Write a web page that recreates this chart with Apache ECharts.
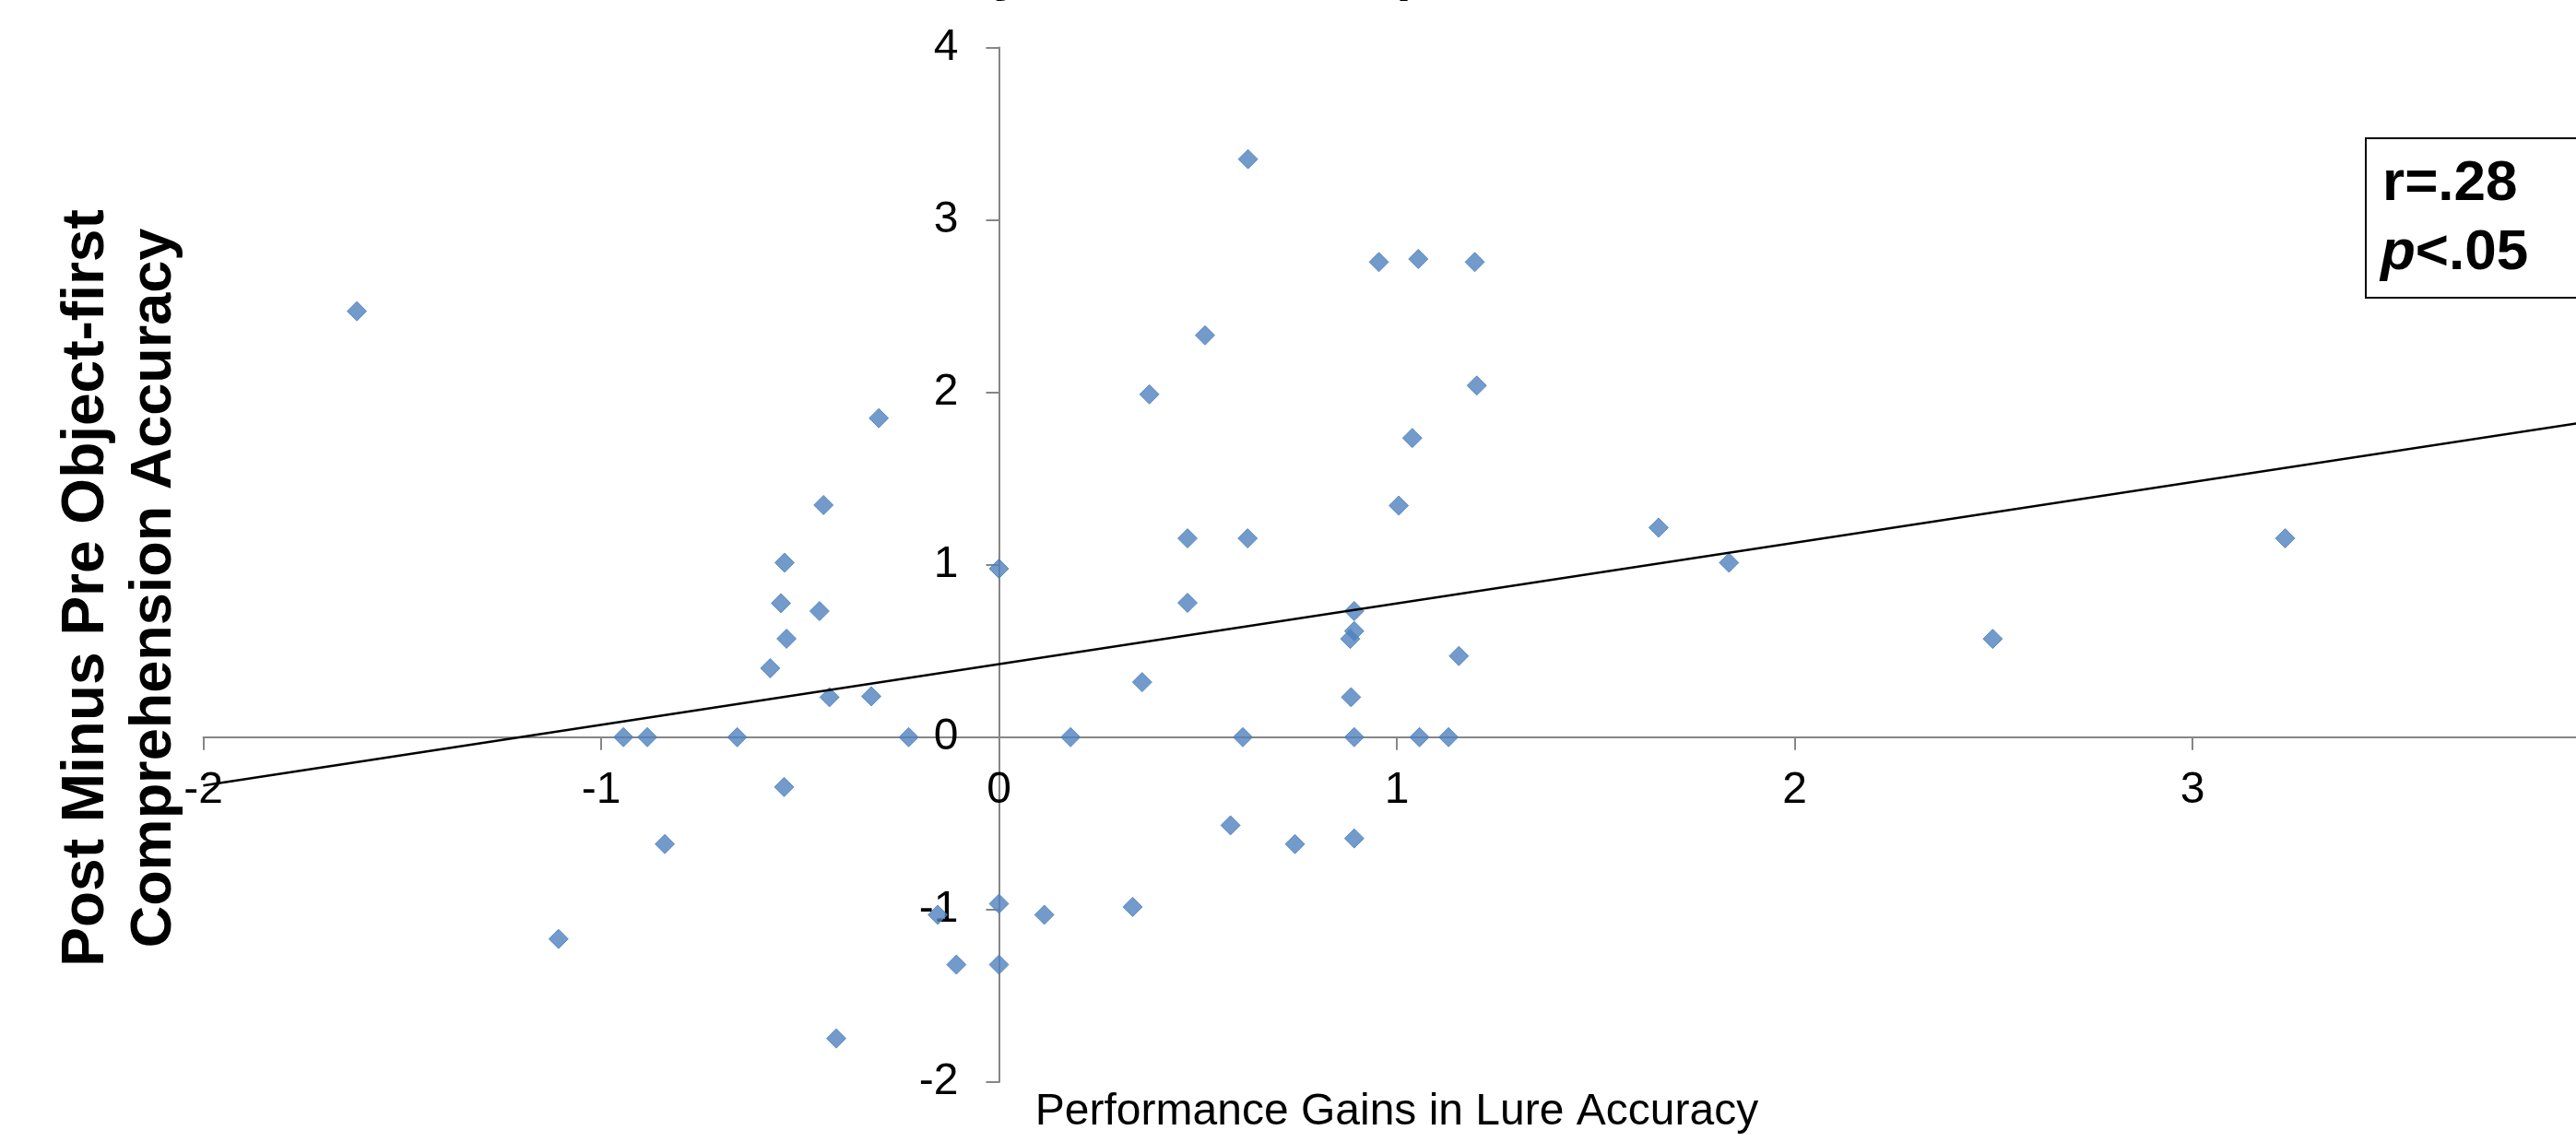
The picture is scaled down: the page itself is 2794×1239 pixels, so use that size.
<!DOCTYPE html>
<html>
<head>
<meta charset="utf-8">
<script src="https://cdn.jsdelivr.net/npm/echarts@6/dist/echarts.min.js"></script>
<style>
html,body{margin:0;padding:0;background:#fff;}
#chart{width:2794px;height:1239px;}
</style>
</head>
<body>
<div id="chart"></div>
<script>
// Data
const lureGain = [-1.614,-1.107,-0.944,-0.884,-0.840,-0.658,-0.575,-0.548,-0.539,-0.534,-0.540,-0.451,-0.441,-0.426,-0.409,-0.321,-0.302,-0.227,-0.154,-0.107,0,0,0,0.114,0.180,0.336,0.360,0.378,0.474,0.474,0.518,0.582,0.613,0.625,0.626,0.744,0.893,0.883,0.893,0.893,0.885,0.893,0.955,1.005,1.039,1.054,1.057,1.130,1.156,1.196,1.201,1.658,1.835,2.498,3.233];
const compGain = [2.47,-1.17,0,0,-0.62,0,0.40,0.777,1.012,0.571,-0.289,0.731,1.346,0.232,-1.747,0.237,1.85,0,-1.03,-1.319,0.977,-0.966,-1.319,-1.03,0,-0.984,0.319,1.988,1.153,0.779,2.33,-0.511,0,1.153,3.352,-0.62,-0.587,0.570,0.615,0.731,0.232,0,2.755,1.343,1.735,2.773,0,0,0.471,2.755,2.039,1.215,1.012,0.57,1.153];
const trendX = [-2, 4];
const trendY = [-0.28, 1.832];
const xTicks = {min: -2, max: 4, interval: 1};
const yTicks = {min: -2, max: 4, interval: 1};
const titleText = 'Lure Accuracy Predicts Comprehension';
const xName = 'Performance Gains in Lure Accuracy';
const yNameLine1 = 'Post Minus Pre Object-first';
const yNameLine2 = 'Comprehension Accuracy';
const statLine1 = 'r=.28';
const statP = 'p';
const statLine2 = '<.05';

const FONT = '"Liberation Sans", Arial, Helvetica, sans-serif';
const scatterData = lureGain.map((x, i) => [x, compGain[i]]);
const trendData = trendX.map((x, i) => [x, trendY[i]]);

// grid geometry (pixels)
const G = {left: 220.5, top: 51.4, width: 2589, height: 1122.6};
// pixel distance from grid edges to the zero lines (axes cross at 0,0)
const xZeroOffset = -G.height * (0 - yTicks.min) / (yTicks.max - yTicks.min);
const yZeroOffset = -G.width * (0 - xTicks.min) / (xTicks.max - xTicks.min);

const chart = echarts.init(document.getElementById('chart'), null, {renderer: 'canvas'});
const axisCommon = {
  type: 'value',
  axisLine: {show: true, onZero: false, lineStyle: {color: '#868686', width: 2}},
  axisTick: {show: true, length: 14, inside: false, lineStyle: {color: '#868686', width: 2}},
  splitLine: {show: false},
};
chart.setOption({
  animation: false,
  backgroundColor: '#fff',
  grid: {left: G.left, top: G.top, width: G.width, height: G.height, containLabel: false, outerBoundsMode: 'none'},
  xAxis: Object.assign({}, axisCommon, {
    position: 'bottom', offset: xZeroOffset,
    min: xTicks.min, max: xTicks.max, interval: xTicks.interval,
    axisLabel: {fontSize: 48, color: '#000', fontFamily: FONT, margin: 34, hideOverlap: false}
  }),
  yAxis: Object.assign({}, axisCommon, {
    position: 'left', offset: yZeroOffset,
    min: yTicks.min, max: yTicks.max, interval: yTicks.interval,
    axisLabel: {fontSize: 48, color: '#000', fontFamily: FONT, margin: 44, hideOverlap: false}
  }),
  series: [
    {
      type: 'scatter',
      data: scatterData,
      symbol: 'diamond',
      symbolSize: 21,
      itemStyle: {color: '#4F81BD', borderColor: '#4A7EBB', borderWidth: 1},
      z: 2
    },
    {
      type: 'line',
      data: trendData,
      showSymbol: false,
      symbol: 'none',
      lineStyle: {color: '#000', width: 2.5},
      z: 3
    }
  ],
  graphic: [
    {
      type: 'text', x: 694, y: 2.2, silent: true,
      style: {text: titleText, fontFamily: FONT, fontWeight: 'bold', fontSize: 60, fill: '#000', align: 'left', verticalAlign: 'bottom'}
    },
    {
      type: 'text', x: 1515, y: 1207, silent: true,
      style: {text: xName, fontFamily: FONT, fontSize: 48, fill: '#000', align: 'center', verticalAlign: 'middle'}
    },
    {
      type: 'text', x: 94, y: 638, rotation: Math.PI / 2, silent: true,
      style: {text: yNameLine1, fontFamily: FONT, fontWeight: 'bold', fontSize: 64, fill: '#000', align: 'center', verticalAlign: 'middle'}
    },
    {
      type: 'text', x: 168, y: 638, rotation: Math.PI / 2, silent: true,
      style: {text: yNameLine2, fontFamily: FONT, fontWeight: 'bold', fontSize: 63, fill: '#000', align: 'center', verticalAlign: 'middle'}
    },
    {
      type: 'rect', silent: true,
      shape: {x: 2566, y: 150, width: 300, height: 173},
      style: {fill: '#fff', stroke: '#000', lineWidth: 2},
      z: 10
    },
    {
      type: 'text', x: 2584, y: 200, silent: true, z: 11,
      style: {text: statLine1, fontFamily: FONT, fontWeight: 'bold', fontSize: 62, fill: '#000', align: 'left', verticalAlign: 'middle'}
    },
    {
      type: 'text', x: 2582, y: 275, silent: true, z: 11,
      style: {
        text: '{i|' + statP + '}{b|' + statLine2 + '}',
        align: 'left', verticalAlign: 'middle',
        rich: {
          i: {fontFamily: FONT, fontWeight: 'bold', fontStyle: 'italic', fontSize: 62, fill: '#000'},
          b: {fontFamily: FONT, fontWeight: 'bold', fontSize: 62, fill: '#000'}
        }
      }
    }
  ]
});
</script>
</body>
</html>
